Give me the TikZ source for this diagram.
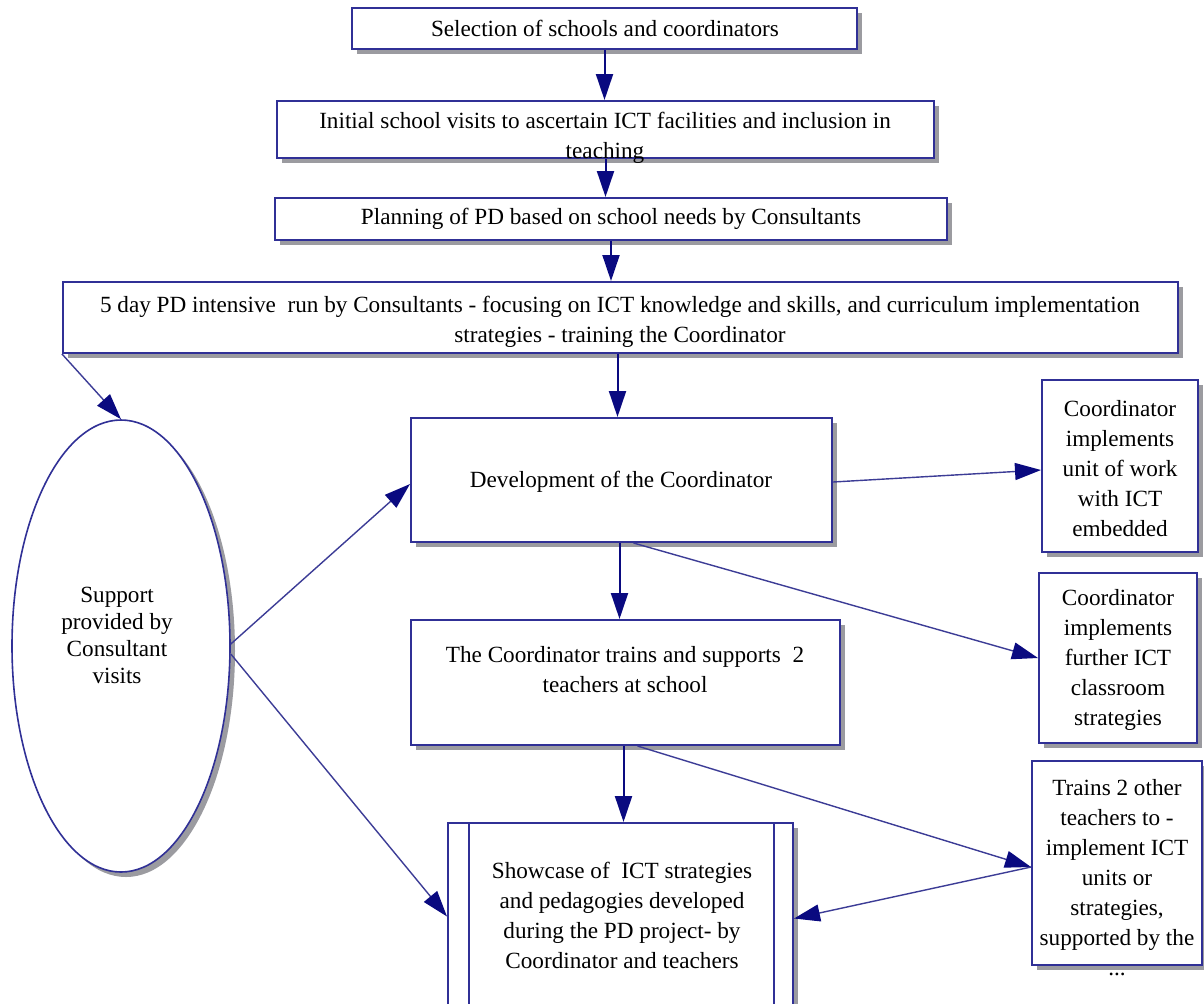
\documentclass[tikz,border=0pt]{standalone}
\usepackage{fontspec}
\setmainfont{Liberation Serif}
\usetikzlibrary{shapes.geometric,shadows,arrows.meta}
\definecolor{bordc}{RGB}{48,48,150}
\definecolor{arrc}{RGB}{10,10,128}
\definecolor{linec}{RGB}{60,60,150}
\definecolor{shadc}{RGB}{155,155,160}
\begin{document}
\begin{tikzpicture}[x=0.5pt,y=-0.5pt,
  box/.style={draw=bordc, line width=1pt, fill=white, rectangle, inner sep=0pt,
    drop shadow={shadow xshift=2.5pt, shadow yshift=-2.5pt, fill=shadc, opacity=1}},
  oval/.style={draw=bordc, line width=0.8pt, fill=white, ellipse, inner sep=0pt,
    drop shadow={shadow xshift=2.5pt, shadow yshift=-2.5pt, fill=shadc, opacity=1}},
  txt/.style={align=center, font=\fontsize{11.6pt}{15pt}\selectfont, inner sep=0pt},
  arr/.style={draw=arrc, line width=1pt, -{Triangle[length=13pt,width=8.5pt,color=arrc]}},
  lnk/.style={draw=linec, line width=0.7pt, -{Triangle[length=13pt,width=8.5pt,color=arrc]}}
]
\clip (0,0) rectangle (1204,1003);
\fill[white] (0,0) rectangle (1204,1003);

% boxes
\node[box, minimum width=252.5pt, minimum height=20.5pt] (sel) at (604.5,28.5) {};
\node[box, minimum width=328.5pt, minimum height=28.5pt] (init) at (605.5,129.5) {};
\node[box, minimum width=336pt, minimum height=21pt] (plan) at (611,219) {};
\node[box, minimum width=557.5pt, minimum height=35.5pt] (intens) at (620.5,317.5) {};
\node[box, minimum width=210.5pt, minimum height=62pt] (dev) at (621.5,480) {};
\node[box, minimum width=214.5pt, minimum height=62.5pt] (trains) at (625.5,682.5) {};
\node[box, minimum width=172.5pt, minimum height=93.5pt] (show) at (620.5,916.5) {};
\draw[bordc, line width=1pt] ([xshift=11pt]show.north west) -- ([xshift=11pt]show.south west);
\draw[bordc, line width=1pt] ([xshift=-10pt]show.north east) -- ([xshift=-10pt]show.south east);
\node[box, minimum width=78pt, minimum height=86pt] (r1) at (1120,466) {};
\node[box, minimum width=79pt, minimum height=85pt] (r2) at (1118,658) {};
\node[box, minimum width=85pt, minimum height=102pt] (r3) at (1117,863) {};
\node[oval, minimum width=109pt, minimum height=226pt] (sup) at (121,646) {};

% texts
\node[txt] (selt) at (605,28) {Selection of schools and coordinators};
\node[txt] (initt) at (605,137.5) {Initial school visits to ascertain ICT facilities and inclusion in\\teaching};
\node[txt] (plant) at (611,219) {Planning of PD based on school needs by Consultants};
\node[txt] (intenst) at (620,322) {5 day PD intensive\ \ run by Consultants - focusing on ICT knowledge and skills, and curriculum implementation\\strategies - training the Coordinator};
\node[txt] (devt) at (621,482) {Development of the Coordinator};
\node[txt] (trainst) at (625,670) {The Coordinator trains and supports\ \ 2\\teachers at school};
\node[txt] (showt) at (622,915) {Showcase of\ \ ICT strategies\\and pedagogies developed\\during the PD project- by\\Coordinator and teachers};
\node[txt] (r1t) at (1120,469) {Coordinator\\implements\\unit of work\\with ICT\\embedded};
\node[txt] (r2t) at (1118,660) {Coordinator\\implements\\further ICT\\classroom\\strategies};
\node[txt] (r3t) at (1117,878) {Trains 2 other\\teachers to -\\implement ICT\\units or\\strategies,\\supported by the\\...};
\node[txt, font=\fontsize{11.6pt}{13.5pt}\selectfont] (supt) at (117,635) {Support\\provided by\\Consultant\\visits};

% connectors
\draw[arr] (sel.south) -- (sel.south |- init.north);
\draw[arr] (init.south) -- (init.south |- plan.north);
\draw[arr] (plan.south) -- (plan.south |- intens.north);
\draw[arr] ([xshift=-2pt]dev.north |- intens.south) -- ([xshift=-2pt]dev.north);
\draw[arr] ([xshift=-1pt]dev.south) -- ([xshift=-1pt]dev.south |- trains.north);
\draw[arr] ([xshift=-1pt]trains.south) -- ([xshift=-1pt]trains.south |- show.north);
\draw[lnk] (intens.south west) -- (sup.north);
\draw[lnk] ([yshift=1pt]sup.east) -- ([yshift=-2pt]dev.west);
\draw[lnk] ([yshift=-4pt]sup.east) -- (show.west);
\draw[lnk] ([yshift=-1pt]dev.east) -- ([yshift=-2pt]r1.west);
\draw[lnk] ([xshift=6pt]dev.south) -- (r2.west);
\draw[lnk] ([xshift=6pt]trains.south) -- ([yshift=-2pt]r3.west);
\draw[lnk] ([yshift=-2pt]r3.west) -- ([yshift=-1pt]show.east);
\end{tikzpicture}
\end{document}
